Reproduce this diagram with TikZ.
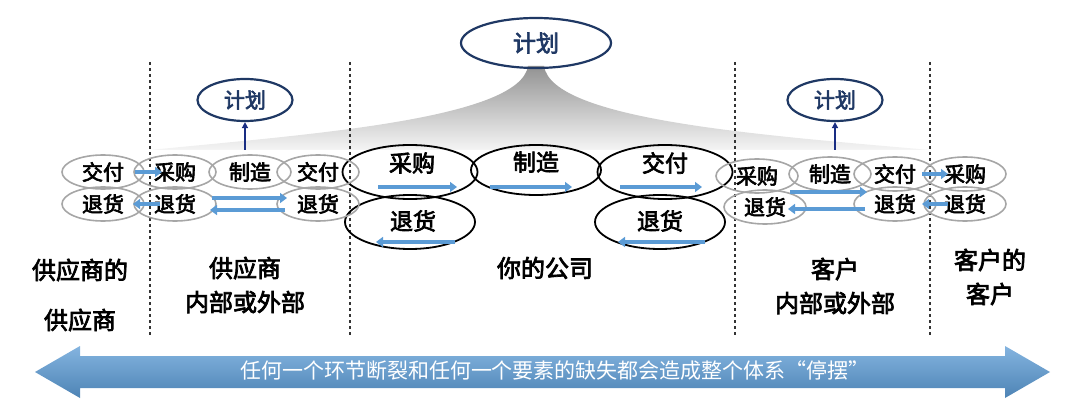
\documentclass[tikz,border=0pt]{standalone}
\usepackage{fontspec}
\setmainfont{Noto Sans CJK SC}[AutoFakeBold=3]
\newcommand\cjkb{\bfseries}
\usetikzlibrary{shapes.geometric,arrows.meta}
\definecolor{navy}{HTML}{1F3864}
\definecolor{bl}{HTML}{5B9BD5}
\tikzset{
 x=1pt,y=-1pt,
 sm/.style={ellipse,draw=gray!70,line width=1.6pt,minimum width=82pt,minimum height=34pt,inner sep=0pt,font=\cjkb\fontsize{21}{21}\selectfont},
 bg/.style={ellipse,draw=black,line width=1.8pt,minimum width=135pt,minimum height=54pt,inner sep=0pt},
 bt/.style={font=\cjkb\fontsize{23}{23}\selectfont},
 plan/.style={ellipse,draw=navy,line width=2.2pt,inner sep=0pt},
 ba/.style={draw=bl,line width=4.5pt,-{Triangle[length=7pt,width=10pt]}},
 na/.style={draw=navy!80!blue,line width=1.5pt,-{Triangle[length=6pt,width=6pt]}},
 lab/.style={font=\cjkb\fontsize{24}{34}\selectfont,align=center},
 sep/.style={dashed,line width=1.2pt,black!80}
}
\begin{document}
\begin{tikzpicture}
\useasboundingbox (0,0) rectangle (1080,409);
% fan
\shade[top color=gray!85,bottom color=gray!8]
 (528,66) .. controls (520,120) and (300,135) .. (150,150) -- (930,150) .. controls (760,135) and (552,120) .. (544,66) -- cycle;
\foreach \x in {150,350,735,930} \draw[sep] (\x,62) -- (\x,335);
% big
\node[bg] (bp) at (410,172) {};
\node[bg,minimum width=130pt,minimum height=50pt] (bm) at (536,170) {};
\node[bg] (bd) at (665,172) {};
\node[bg,minimum width=130pt] (br) at (410,222) {};
\node[bg,minimum width=130pt] (br2) at (660,222) {};
\node[bt] (tbp) at (412,163) {采购};
\node[bt] (tbm) at (536,162) {制造};
\node[bt] (tbd) at (665,163) {交付};
\node[bt] (tbr) at (413,221) {退货};
\node[bt] (tbr2) at (660,221) {退货};
% small left
\node[sm] (l1) at (103,172) {交付};
\node[sm] (l2) at (175,172) {采购};
\node[sm] (l3) at (250,172) {制造};
\node[sm] (l4) at (318,172) {交付};
\node[sm] (l5) at (103,204) {退货};
\node[sm] (l6) at (175,204) {退货};
\node[sm] (l7) at (318,204) {退货};
% small right
\node[sm] (r1) at (757,176) {采购};
\node[sm] (r2) at (830,174) {制造};
\node[sm] (r3) at (895,174) {交付};
\node[sm] (r4) at (965,174) {采购};
\node[sm] (r5) at (765,207) {退货};
\node[sm] (r6) at (895,204) {退货};
\node[sm] (r7) at (965,204) {退货};
% plans
\node[plan,minimum width=150pt,minimum height=50pt,font=\cjkb\color{navy}\fontsize{23}{23}\selectfont] (P) at (536,43) {计划};
\node[plan,minimum width=95pt,minimum height=42pt,font=\cjkb\color{navy}\fontsize{21}{21}\selectfont] (pl) at (245,100) {计划};
\node[plan,minimum width=95pt,minimum height=42pt,font=\cjkb\color{navy}\fontsize{21}{21}\selectfont] (pr) at (835,100) {计划};
\coordinate (ul) at (245,150); \coordinate (ur) at (835,150);
\draw[na] (ul) -- (pl.south);
\draw[na] (ur) -- (pr.south);
% blue arrows
\coordinate (a1) at (135,172); \coordinate (a2) at (162,172);
\draw[ba] (a1) -- (a2);
\coordinate (a3) at (160,204); \coordinate (a4) at (133,204);
\draw[ba] (a3) -- (a4);
\coordinate (a5) at (212,198); \coordinate (a6) at (287,198);
\draw[ba] (a5) -- (a6);
\coordinate (a7) at (285,210); \coordinate (a8) at (210,210);
\draw[ba] (a7) -- (a8);
\coordinate (b1) at (378,187); \coordinate (b2) at (457,187);
\draw[ba] (b1) -- (b2);
\coordinate (b3) at (490,187); \coordinate (b4) at (572,187);
\draw[ba] (b3) -- (b4);
\coordinate (b5) at (620,187); \coordinate (b6) at (702,187);
\draw[ba] (b5) -- (b6);
\coordinate (b7) at (455,242); \coordinate (b8) at (376,242);
\draw[ba] (b7) -- (b8);
\coordinate (b9) at (705,242); \coordinate (b10) at (618,242);
\draw[ba] (b9) -- (b10);
\coordinate (c1) at (790,192); \coordinate (c2) at (867,192);
\draw[ba] (c1) -- (c2);
\coordinate (c3) at (865,209); \coordinate (c4) at (788,209);
\draw[ba] (c3) -- (c4);
\coordinate (c5) at (922,174); \coordinate (c6) at (948,174);
\draw[ba] (c5) -- (c6);
\coordinate (c7) at (948,204); \coordinate (c8) at (922,204);
\draw[ba] (c7) -- (c8);
% labels
\node[lab] (t1) at (80,270) {供应商的};
\node[lab] (t2) at (80,320) {供应商};
\node[lab] (t3) at (245,285) {供应商\\内部或外部};
\node[lab] (t4) at (545,268) {你的公司};
\node[lab] (t5) at (835,286) {客户\\内部或外部};
\node[lab] (t6) at (990,277) {客户的\\客户};
% bottom arrow
\shade[top color=bl!75!white,bottom color=bl!85!black]
 (35,372) -- (80,346) -- (80,356) -- (1005,356) -- (1005,346) -- (1050,372) -- (1005,398) -- (1005,388) -- (80,388) -- (80,398) -- cycle;
\node[font=\fontsize{21}{21}\selectfont\color{white}] (bt) at (555,371) {任何一个环节断裂和任何一个要素的缺失都会造成整个体系“停摆”};
\end{tikzpicture}
\end{document}
